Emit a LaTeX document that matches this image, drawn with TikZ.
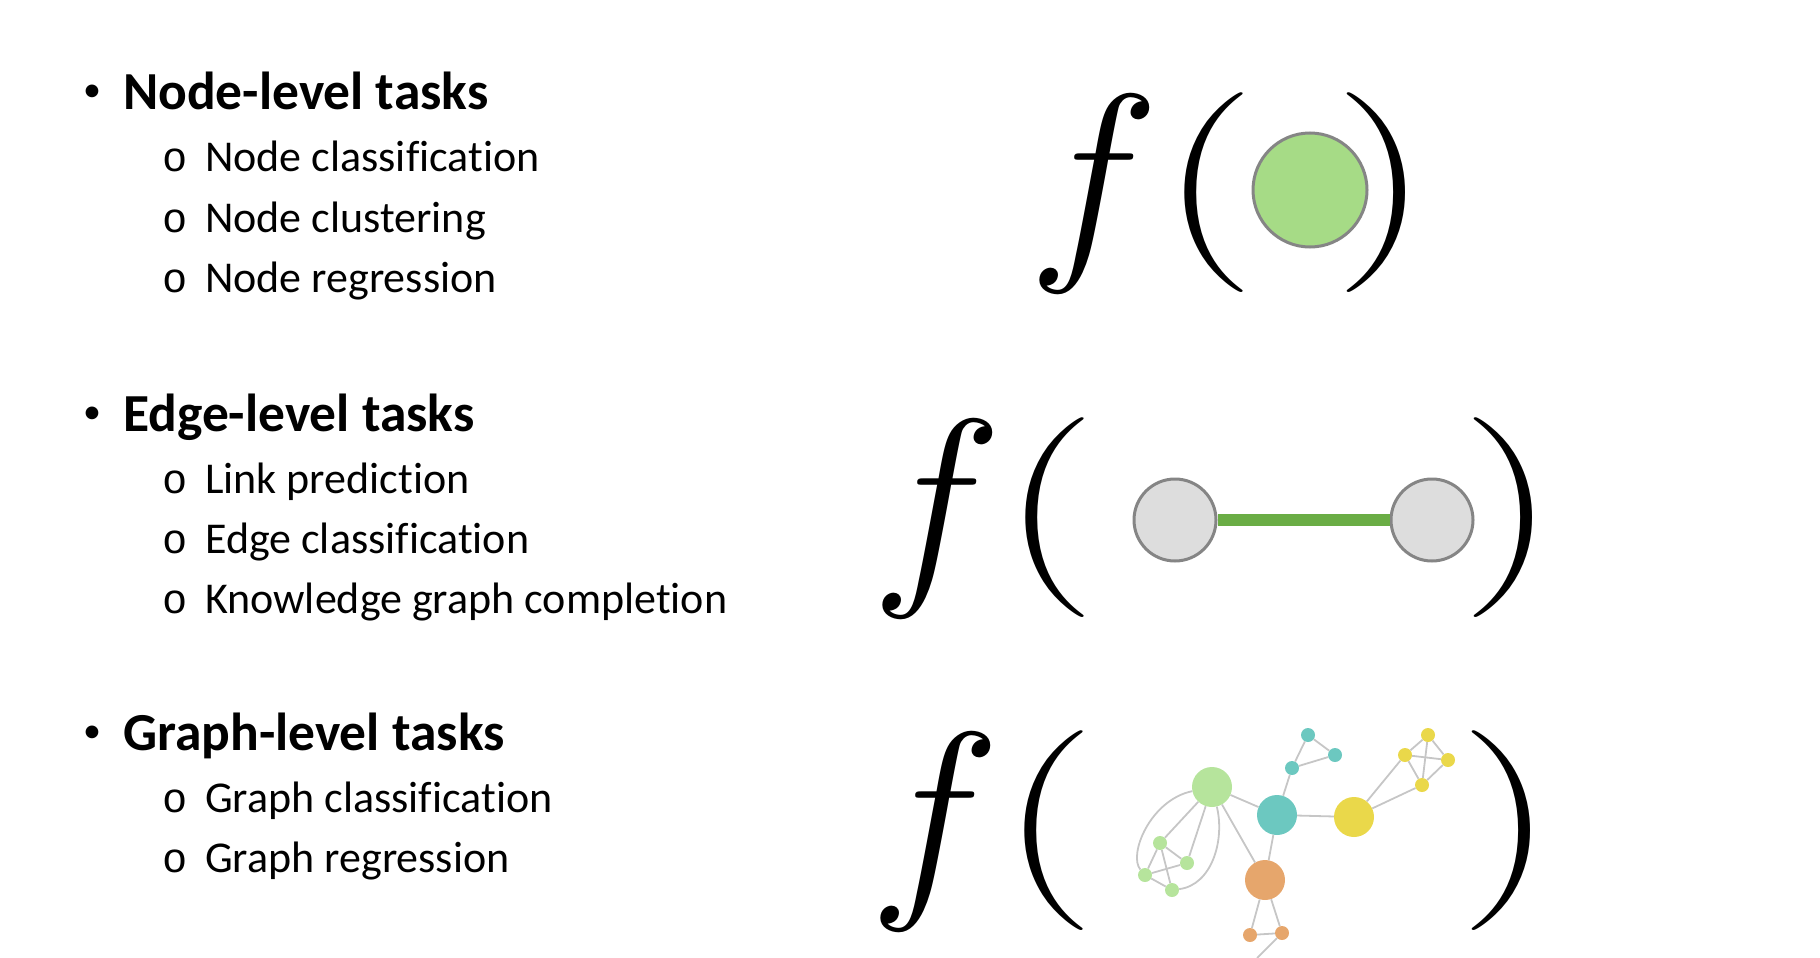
\RequirePackage{fix-cm}
\documentclass[tikz,border=0pt]{standalone}
\usepackage{fontspec}
\setmainfont{Carlito}[Ligatures=CommonOff]
\newfontfamily\dotfont{Liberation Mono}
\usepackage[HTML]{xcolor}
\usepackage{tikz}
\usetikzlibrary{positioning}

\definecolor{nodegreen}{HTML}{A6DB86}
\definecolor{rimgray}{HTML}{858585}
\definecolor{vertexgray}{HTML}{DDDDDD}
\definecolor{linkgreen}{HTML}{6AAD45}
\definecolor{glight}{HTML}{B6E49C}
\definecolor{gteal}{HTML}{6CC8C0}
\definecolor{gyellow}{HTML}{EAD84A}
\definecolor{gorange}{HTML}{E6A66C}
\definecolor{edgegray}{HTML}{C6C6C6}

\newcommand{\lpar}{\scalebox{1.35}[1]{$($}}
\newcommand{\rpar}{\scalebox{1.35}[1]{$)$}}

\begin{document}
\begin{tikzpicture}[x=1pt, y=-1pt,
  head/.style={inner sep=0pt, anchor=base west, font=\fontsize{53.5}{60}\selectfont\bfseries},
  headdot/.style={inner sep=0pt, anchor=base, font=\fontsize{36}{40}\selectfont},
  item/.style={inner sep=0pt, anchor=base west, font=\fontsize{44}{50}\selectfont},
  itemdot/.style={inner sep=0pt, anchor=base, font=\fontsize{42}{50}\selectfont\dotfont},
  fsym/.style={inner sep=0pt, anchor=base, font=\fontsize{222}{222}\selectfont},
  paren/.style={inner sep=0pt, anchor=base, font=\fontsize{200}{200}\selectfont},
  vertex/.style={circle, inner sep=0pt, draw=rimgray, line width=3pt, minimum size=#1},
  gnode/.style={circle, inner sep=0pt, minimum size=#1},
  gedge/.style={draw=edgegray, line width=1.8pt}]
\useasboundingbox (0,0) rectangle (1820,958);

% Node-level tasks
\node[headdot] (nodebul) at (92,101) {•};
\node[head] (nodehead) at (123,109) {Node-level tasks};
\node[itemdot] (nodeo1) at (175,171) {o};
\node[item] (nodecls) at (205,171) {Node classification};
\node[itemdot] (nodeo2) at (175,232) {o};
\node[item] (nodeclu) at (205,232) {Node clustering};
\node[itemdot] (nodeo3) at (175,292) {o};
\node[item] (nodereg) at (205,292) {Node regression};

% f of one node
\node[fsym] (fnode) at (1094,249) {$f$};
\node[paren] (nodeleft) at (1208,242) {\lpar};
\node[paren] (noderight) at (1382,242) {\rpar};
\node[vertex=114, fill=nodegreen] (target) at (1310,190) {};

% Edge-level tasks
\node[headdot] (edgebul) at (92,423) {•};
\node[head] (edgehead) at (123,431) {Edge-level tasks};
\node[itemdot] (edgeo1) at (175,493) {o};
\node[item] (linkpred) at (205,493) {Link prediction};
\node[itemdot] (edgeo2) at (175,553) {o};
\node[item] (edgecls) at (205,553) {Edge classification};
\node[itemdot] (edgeo3) at (175,613) {o};
\node[item] (kgc) at (205,613) {Knowledge graph completion};

% f of one edge
\node[fsym] (fedge) at (937,574) {$f$};
\node[paren] (edgeleft) at (1049,567) {\lpar};
\node[paren] (edgeright) at (1509,567) {\rpar};
\node[vertex=82, fill=vertexgray] (u) at (1175,520) {};
\node[vertex=82, fill=vertexgray] (v) at (1432,520) {};
\draw[linkgreen, line width=12pt] (u) -- (v);

% Graph-level tasks
\node[headdot] (graphbul) at (92,742) {•};
\node[head] (graphhead) at (123,750) {Graph-level tasks};
\node[itemdot] (grapho1) at (175,812) {o};
\node[item] (graphcls) at (205,812) {Graph classification};
\node[itemdot] (grapho2) at (175,872) {o};
\node[item] (graphreg) at (205,872) {Graph regression};

% f of a whole graph
\node[fsym] (fgraph) at (935,887) {$f$};
\node[paren] (graphleft) at (1048,880) {\lpar};
\node[paren] (graphright) at (1507,880) {\rpar};

\foreach \name/\x/\y/\col/\sz in {gA/1212/787/glight/40, gB/1277/815/gteal/40,
    gC/1354/817/gyellow/40, gD/1265/880/gorange/40,
    t1/1308/735/gteal/14, t2/1335/755/gteal/14, t3/1292/768/gteal/14,
    y1/1428/735/gyellow/14, y2/1405/755/gyellow/14, y3/1448/760/gyellow/14, y4/1422/785/gyellow/14,
    l1/1160/843/glight/14, l2/1187/863/glight/14, l3/1145/875/glight/14, l4/1172/890/glight/14,
    o1/1250/935/gorange/14, o2/1282/933/gorange/14}
  \node[gnode=\sz, fill=\col] (\name) at (\x,\y) {};
\coordinate (oend) at (1257,958);

\foreach \a/\b in {gA/gB, gB/gC, gB/gD, gA/gD, gA/l1, gA/l2, gB/t3,
    t1/t2, t1/t3, t2/t3, gC/y2, gC/y4, y1/y2, y1/y3, y1/y4, y2/y3, y2/y4, y3/y4,
    l1/l2, l1/l3, l1/l4, l2/l3, l3/l4, gD/o1, gD/o2, o1/o2, o2/oend}
  \draw[gedge] (\a) -- (\b);
\draw[gedge] (gA) .. controls (1150,800) and (1128,855) .. (l3);
\draw[gedge] (gA) .. controls (1225,840) and (1212,885) .. (l4);
\end{tikzpicture}
\end{document}
